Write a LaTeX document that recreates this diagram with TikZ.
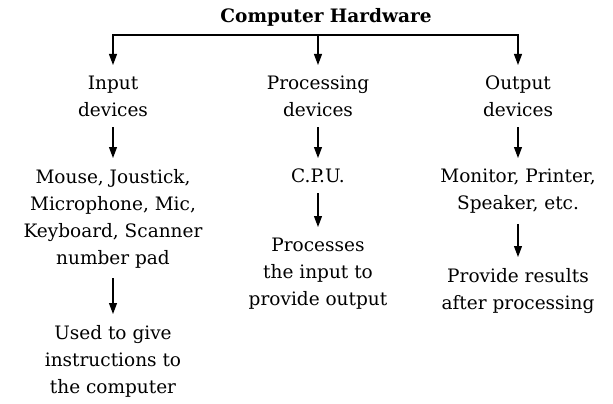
\documentclass[tikz,border=0pt]{standalone}
\usepackage{fontspec}
\setmainfont{DejaVu Serif}
\usetikzlibrary{arrows.meta}

\tikzset{
  txt/.style={align=center, anchor=north, inner xsep=0pt, inner ysep=0pt, font=\fontsize{18.5}{27}\selectfont},
  arr/.style={-{Triangle[length=11pt,width=8pt]}, line width=1.1pt},
  down/.style={arr, shorten <=10pt, shorten >=11pt},
}

\begin{document}
\begin{tikzpicture}[x=1pt, y=-1pt]
\useasboundingbox (0,0) rectangle (613,404);
\node[txt, anchor=base, font=\fontsize{18.5}{27}\selectfont\bfseries] (hw) at (326,23) {Computer Hardware};
\coordinate (bar) at (318,35);
\node[txt] (in1) at (113,76) {Input\\devices};
\node[txt] (pr1) at (318,76) {Processing\\devices};
\node[txt] (ou1) at (518,76) {Output\\devices};
\node[txt] (in2) at (113,169) {Mouse, Joustick,\\Microphone, Mic,\\Keyboard, Scanner\\number pad};
\node[txt] (pr2) at (318,169) {C.P.U.};
\node[txt] (ou2) at (518,169) {Monitor, Printer,\\Speaker, etc.};
\node[txt] (in3) at (113,325) {Used to give\\instructions to\\the computer};
\node[txt] (pr3) at (318,238) {Processes\\the input to\\provide output};
\node[txt] (ou3) at (518,268) {Provide results\\after processing};
\draw[arr, shorten >=11pt] (bar) -| (in1.north);
\draw[arr, shorten >=11pt] (bar) -- (pr1.north);
\draw[arr, shorten >=11pt] (bar) -| (ou1.north);
\draw[down] (in1) -- (in2);
\draw[down] (pr1) -- (pr2);
\draw[down] (ou1) -- (ou2);
\draw[down] (in2) -- (in3);
\draw[down] (pr2) -- (pr3);
\draw[down] (ou2) -- (ou3);
\end{tikzpicture}
\end{document}
